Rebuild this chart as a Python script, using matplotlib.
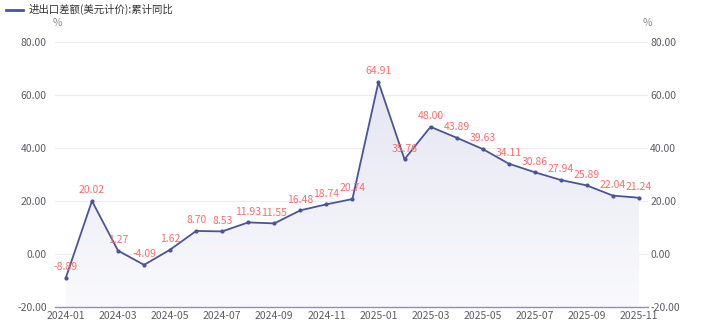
import numpy as np
import matplotlib.pyplot as plt
from matplotlib.colors import LinearSegmentedColormap
from matplotlib.lines import Line2D

plt.rcParams['font.family'] = ['Noto Sans CJK SC', 'DejaVu Sans']

# %% DATA
months = ['2024-01', '2024-02', '2024-03', '2024-04', '2024-05', '2024-06',
          '2024-07', '2024-08', '2024-09', '2024-10', '2024-11', '2024-12',
          '2025-01', '2025-02', '2025-03', '2025-04', '2025-05', '2025-06',
          '2025-07', '2025-08', '2025-09', '2025-10', '2025-11']
values = [-8.89, 20.02, 1.27, -4.09, 1.62, 8.70, 8.53, 11.93, 11.55, 16.48,
          18.74, 20.74, 64.91, 35.76, 48.00, 43.89, 39.63, 34.11, 30.86,
          27.94, 25.89, 22.04, 21.24]
series_name = '进出口差额(美元计价):累计同比'
yticks = [-20, 0, 20, 40, 60, 80]

# %% PLOT
line_color = '#4b5596'
label_color = '#ff6b6b'
tick_color = '#5c5c66'

fig = plt.figure(figsize=(7.03, 3.31), dpi=100)
ax = fig.add_axes([0.0782, 0.0725, 0.8436, 0.8005])
x = np.arange(len(values))
ymin, ymax = -20, 80

# gradient area under the line
cmap = LinearSegmentedColormap.from_list('fade', ['#fafafd', '#e4e6f1'])
grad = np.linspace(0, 1, 256).reshape(-1, 1)
im = ax.imshow(grad, extent=[x[0], x[-1], ymin, max(values)], origin='lower',
               aspect='auto', cmap=cmap, zorder=1)
poly = ax.fill_between(x, values, ymin, color='none')
im.set_clip_path(poly.get_paths()[0], transform=ax.transData)

ax.plot(x, values, color=line_color, lw=1.3, marker='o', ms=2.0, zorder=3)
for xi, v in zip(x, values):
    ax.annotate(f'{v:.2f}', (xi, v), xytext=(0, 4), textcoords='offset points',
                ha='center', va='bottom', color=label_color, fontsize=7.5,
                zorder=4)

ax.set_xlim(-0.42, len(values) - 0.65)
ax.set_ylim(ymin, ymax)
ax.set_yticks(yticks)
ax.set_yticklabels([f'{t:.2f}' for t in yticks])
ax.set_xticks(x[::2])
ax.set_xticklabels(months[::2])
ax.grid(axis='y', color='#ececf2', lw=0.8, zorder=0)
ax.set_axisbelow(True)

for side in ['top', 'right', 'left']:
    ax.spines[side].set_visible(False)
ax.spines['bottom'].set_color('#8b91b4')
ax.spines['bottom'].set_linewidth(1.0)
ax.tick_params(axis='x', length=0, pad=3, labelsize=7.5, labelcolor=tick_color)
ax.tick_params(axis='y', length=0, pad=6, labelsize=7.5, labelcolor=tick_color)

ax2 = ax.twinx()
ax2.set_ylim(ymin, ymax)
ax2.set_yticks(yticks)
ax2.set_yticklabels([f'{t:.2f}' for t in yticks])
for side in ['top', 'right', 'left', 'bottom']:
    ax2.spines[side].set_visible(False)
ax2.tick_params(axis='y', length=0, pad=1.5, labelsize=7.5, labelcolor=tick_color)

fig.text(0.081, 0.93, '%', color='#8a8a94', fontsize=7.5, ha='center', va='center')
fig.text(0.921, 0.93, '%', color='#8a8a94', fontsize=7.5, ha='center', va='center')

handle = Line2D([], [], color=line_color, lw=2)
fig.legend([handle], [series_name], loc='upper left', bbox_to_anchor=(0.003, 1.0),
           frameon=False, fontsize=7.5, handlelength=1.6, handletextpad=0.5,
           borderaxespad=0.2, borderpad=0.2, labelcolor='#333333')

fig.savefig('out.png', dpi=100)
